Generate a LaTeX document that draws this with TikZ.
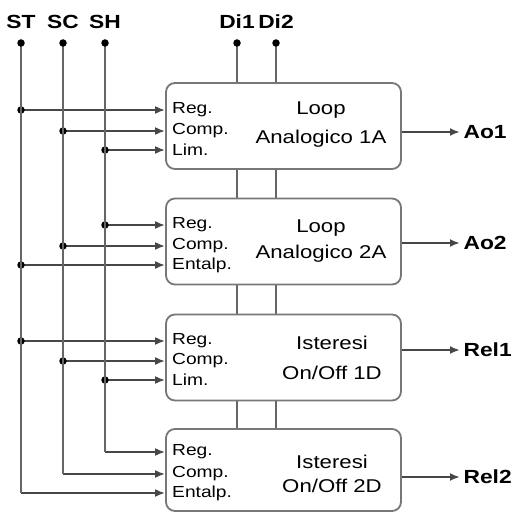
\documentclass[tikz,border=0pt]{standalone}
\usepackage{fontspec}
\setmainfont[FakeStretch=1.2]{Liberation Sans}
\usetikzlibrary{arrows.meta}
\definecolor{busgray}{HTML}{666666}
\definecolor{boxgray}{HTML}{777777}

\begin{document}
\begin{tikzpicture}[
    x=1pt, y=-1pt, % pixel grid, (0,0) at top left
    box/.style={draw=boxgray, line width=1.8pt, rounded corners=9pt, fill=white,
        minimum width=235pt, minimum height=86pt, inner sep=0pt},
    bus/.style={draw=busgray, line width=2pt},
    arr/.style={-{Latex[length=10pt,width=8pt]}, line width=2pt, draw=black!72},
    dot/.style={circle, fill=black, inner sep=0pt, minimum size=7.5pt},
    sig/.style={font=\fontsize{19}{19}\selectfont\bfseries},
    port/.style={font=\fontsize{16}{18}\selectfont, anchor=west, inner sep=0pt}
]
\useasboundingbox (0,0) rectangle (511,513);

% signal names and bus heads
\foreach \n/\x/\t in {st/21/ST, sc/63/SC, sh/105/SH, di1/237/Di1, di2/276/Di2} {
    \node[sig] (\n) at (\x,22) {\t};
    \coordinate (\n-top) at (\x,43);
}

% Di buses run behind the blocks
\coordinate (dibot) at (0,429);
\foreach \n in {di1, di2}
    \draw[bus] (\n-top) -- (\n-top|-dibot);

% blocks
\node[box] (b1) at (283.5,126) {};
\node[box] (b2) at (283.5,241.5) {};
\node[box] (b3) at (283.5,357.5) {};
\node[box, minimum height=82pt] (b4) at (283.5,470) {};

% inputs
\foreach \b/\r/\y/\src/\txt in {
    1/1/110/st/Reg., 1/2/131/sc/Comp., 1/3/150/sh/Lim.,
    2/1/225/sh/Reg., 2/2/246/sc/Comp., 2/3/265/st/Entalp.,
    3/1/341/st/Reg., 3/2/361/sc/Comp., 3/3/380/sh/Lim.,
    4/1/452/sh/Reg., 4/2/474/sc/Comp., 4/3/493/st/Entalp.} {
    \coordinate (b\b r\r) at (b\b.west|-0,\y);
    \node[port] (b\b p\r) at (172,\y) {\txt};
    \draw[arr] (\src-top|-b\b r\r) -- (b\b r\r);
    \ifnum\b<4 \node[dot] at (\src-top|-b\b r\r) {}; \fi
}

% sensor buses end at the last block
\draw[bus] (st-top) -- (st-top|-b4r3);
\draw[bus] (sc-top) -- (sc-top|-b4r2);
\draw[bus] (sh-top) -- (sh-top|-b4r1);
\foreach \n in {st, sc, sh, di1, di2}
    \node[dot] at (\n-top) {};

% block titles
\foreach \b/\x/\y/\s/\txt in {
    1/321/125/29/{Loop\\Analogico 1A},
    2/321/241/26/{Loop\\Analogico 2A},
    3/332/358/30/{Isteresi\\On/Off 1D},
    4/332/474/24/{Isteresi\\On/Off 2D}} {
    \node[font=\fontsize{18.5}{\s}\selectfont, align=center] (t\b) at (\x,\y) {\txt};
}

% outputs
\foreach \b/\y/\t in {1/132/Ao1, 2/243/Ao2, 3/350/Rel1, 4/477/Rel2} {
    \node[sig, anchor=west] (o\b) at (460,\y) {\t};
    \draw[arr] (b\b.east|-o\b) -- (o\b.west);
}
\end{tikzpicture}
\end{document}
